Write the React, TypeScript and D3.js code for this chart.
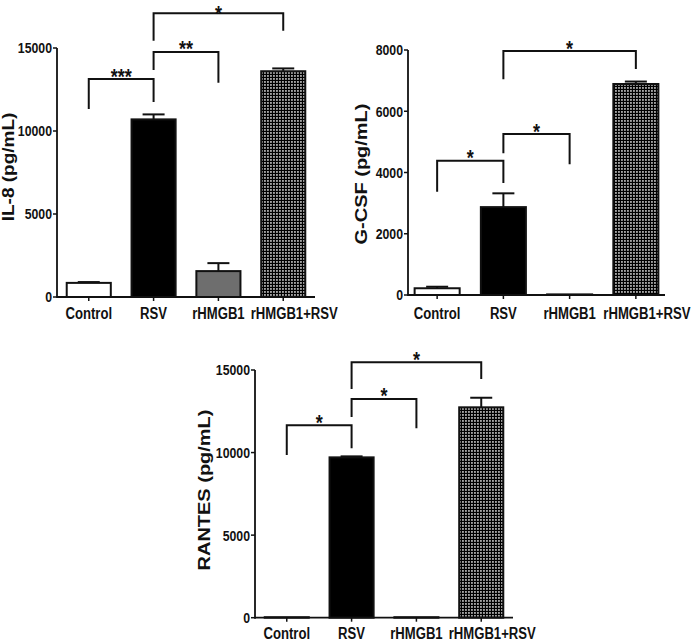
import React from "react";
import * as d3 from "d3";

const categories = ["Control", "RSV", "rHMGB1", "rHMGB1+RSV"];

const il8Values = [850, 10700, 1560, 13600];
const il8Errors = [50, 300, 480, 170];
const il8Ticks = [0, 5000, 10000, 15000];

const gcsfValues = [220, 2870, 20, 6890];
const gcsfErrors = [50, 450, 0, 80];
const gcsfTicks = [0, 2000, 4000, 6000, 8000];

const rantesValues = [30, 9710, 30, 12740];
const rantesErrors = [0, 60, 0, 580];
const rantesTicks = [0, 5000, 10000, 15000];

// significance brackets: [fromIndex, toIndex, bracketLevel, leftLegEnd, rightLegEnd, label]
const il8Brackets: [number, number, number, number, number, string][] = [
  [0, 1, 13130, 11330, 11750, "***"],
  [1, 2, 14760, 13680, 12910, "**"],
  [1, 3, 17090, 15440, 16040, "*"],
];
const gcsfBrackets: [number, number, number, number, number, string][] = [
  [0, 1, 4385, 3373, 3657, "*"],
  [1, 2, 5257, 4627, 4268, "*"],
  [1, 3, 7967, 7043, 7380, "*"],
];
const rantesBrackets: [number, number, number, number, number, string][] = [
  [0, 1, 11654, 9855, 10260, "*"],
  [1, 2, 13246, 12156, 11472, "*"],
  [1, 3, 15469, 13852, 14458, "*"],
];

const FONT = "'Liberation Sans', Arial, Helvetica, sans-serif";
const SX = 0.82;
const INK = "#111";

type PanelCfg = {
  title: string;
  values: number[];
  errors: number[];
  ticks: number[];
  brackets: [number, number, number, number, number, string][];
  x0: number;
  x1: number;
  yBottom: number;
  yTop: number;
  padOuter: number;
  titleX: number;
  titleY: number;
  titleSize: number;
  labelGap: number;
};

const fills = ["#ffffff", "#000000", "#6e6e6e", "url(#checker)"];

function Panel({ cfg }: { cfg: PanelCfg }) {
  const max = cfg.ticks[cfg.ticks.length - 1];
  const y = d3.scaleLinear().domain([0, max]).range([cfg.yBottom, cfg.yTop]);
  const x = d3
    .scaleBand<string>()
    .domain(categories)
    .range([cfg.x0, cfg.x1])
    .paddingInner(0.32)
    .paddingOuter(cfg.padOuter);
  const bw = x.bandwidth();
  const cx = (i: number) => (x(categories[i]) as number) + bw / 2;
  const capHalf = 11;
  const lastShift = 11;

  return (
    <g>
      {categories.map((c, i) => {
        const top = y(cfg.values[i]);
        return (
          <rect
            key={"b" + c}
            x={x(c)}
            y={top}
            width={bw}
            height={Math.max(0, cfg.yBottom - top)}
            fill={fills[i]}
            stroke={INK}
            strokeWidth={2}
          />
        );
      })}
      {categories.map((c, i) => {
        if (cfg.errors[i] <= 0) return null;
        const top = y(cfg.values[i]);
        const et = y(cfg.values[i] + cfg.errors[i]);
        return (
          <g key={"e" + c} stroke={INK} strokeWidth={2}>
            <line x1={cx(i)} x2={cx(i)} y1={top} y2={et} />
            <line x1={cx(i) - capHalf} x2={cx(i) + capHalf} y1={et} y2={et} />
          </g>
        );
      })}
      <line x1={cfg.x0} x2={cfg.x0} y1={cfg.yBottom + 1} y2={y(max)} stroke={INK} strokeWidth={1.8} />
      <line x1={cfg.x0} x2={cfg.x1} y1={cfg.yBottom} y2={cfg.yBottom} stroke={INK} strokeWidth={1.8} />
      {cfg.ticks.map((t) => (
        <g key={"t" + t}>
          <line x1={cfg.x0 - 4} x2={cfg.x0} y1={y(t)} y2={y(t)} stroke={INK} strokeWidth={1.5} />
          <text
            transform={`translate(${cfg.x0 - 5},${y(t) + 5.4}) scale(${SX},1)`}
            textAnchor="end"
            fontFamily={FONT}
            fontWeight="bold"
            fontSize={15}
            fill={INK}
          >
            {t}
          </text>
        </g>
      ))}
      {categories.map((c, i) => (
        <g key={"x" + c}>
          <line x1={cx(i)} x2={cx(i)} y1={cfg.yBottom} y2={cfg.yBottom + 4} stroke={INK} strokeWidth={1.5} />
          <text
            transform={`translate(${cx(i) + (i === categories.length - 1 ? lastShift : 0)},${
              cfg.yBottom + cfg.labelGap
            }) scale(${SX},1)`}
            textAnchor="middle"
            fontFamily={FONT}
            fontWeight="bold"
            fontSize={16}
            fill={INK}
          >
            {c}
          </text>
        </g>
      ))}
      <text
        transform={`translate(${cfg.titleX},${cfg.titleY}) rotate(-90) scale(1,${SX})`}
        textAnchor="middle"
        fontFamily={FONT}
        fontWeight="bold"
        fontSize={cfg.titleSize}
        fill={INK}
      >
        {cfg.title}
      </text>
      {cfg.brackets.map(([a, b, lvl, le, re, lab], k) => {
        const yl = y(lvl);
        const xa = cx(a);
        const xb = cx(b);
        const starY = Math.max(yl + 4.5, 20.5);
        return (
          <g key={"s" + k}>
            <path
              d={`M${xa},${y(le)}V${yl}H${xb}V${y(re)}`}
              fill="none"
              stroke={INK}
              strokeWidth={2}
            />
            <text
              transform={`translate(${(xa + xb) / 2},${starY}) scale(${SX},1)`}
              textAnchor="middle"
              fontFamily={FONT}
              fontWeight="bold"
              fontSize={22}
              fill={INK}
            >
              {lab}
            </text>
          </g>
        );
      })}
    </g>
  );
}

const panels: PanelCfg[] = [
  {
    title: "IL-8 (pg/mL)",
    values: il8Values,
    errors: il8Errors,
    ticks: il8Ticks,
    brackets: il8Brackets,
    x0: 57,
    x1: 315,
    yBottom: 297,
    yTop: 48,
    padOuter: 0.15,
    titleX: 13.5,
    titleY: 167,
    titleSize: 19,
    labelGap: 22,
  },
  {
    title: "G-CSF (pg/mL)",
    values: gcsfValues,
    errors: gcsfErrors,
    ticks: gcsfTicks,
    brackets: gcsfBrackets,
    x0: 408,
    x1: 665,
    yBottom: 295,
    yTop: 50,
    padOuter: 0.1,
    titleX: 367,
    titleY: 174,
    titleSize: 20,
    labelGap: 24,
  },
  {
    title: "RANTES (pg/mL)",
    values: rantesValues,
    errors: rantesErrors,
    ticks: rantesTicks,
    brackets: rantesBrackets,
    x0: 255,
    x1: 513,
    yBottom: 617.7,
    yTop: 370,
    padOuter: 0.15,
    titleX: 210,
    titleY: 490,
    titleSize: 20,
    labelGap: 21,
  },
];

export default function App() {
  return (
    <svg
      width={693}
      height={643}
      style={{ position: "absolute", left: 0, top: 0, background: "#fff" }}
    >
      <defs>
        <pattern id="checker" width={3} height={3} patternUnits="userSpaceOnUse">
          <rect width={3} height={3} fill="#000" />
          <rect x={0.2} y={0.2} width={1.5} height={1.5} fill="#fff" />
        </pattern>
      </defs>
      <rect width={693} height={643} fill="#fff" />
      {panels.map((p) => (
        <Panel key={p.title} cfg={p} />
      ))}
    </svg>
  );
}
